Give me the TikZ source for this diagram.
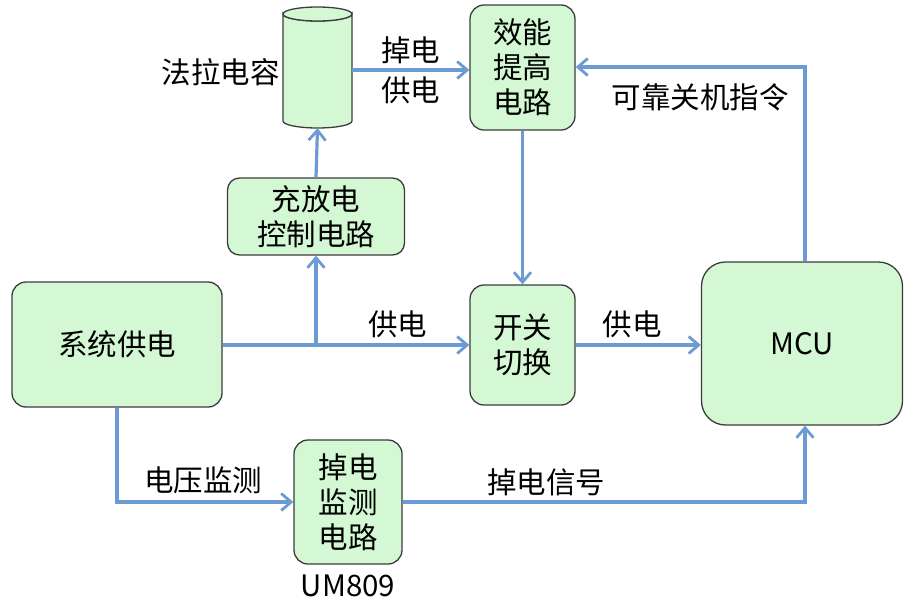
\documentclass[tikz,border=0pt]{standalone}
\usepackage{fontspec}
\setmainfont{Noto Sans CJK SC}
\usetikzlibrary{arrows.meta}
\definecolor{boxfill}{HTML}{D3F8D3}
\definecolor{boxline}{HTML}{3C3C3C}
\definecolor{wire}{HTML}{6B9BD2}
\tikzset{
  blk/.style={draw=boxline, line width=1.3pt, fill=boxfill, rounded corners=14pt, align=center, inner sep=0pt, font=\fontsize{29.5}{35}\selectfont},
  wirestyle/.style={draw=wire, line width=3.2pt, -{Straight Barb[length=10pt,width=17pt,line width=2.8pt]}},
  lbl/.style={font=\fontsize{29.5}{33}\selectfont, align=center, inner sep=0pt}
}
\begin{document}
\begin{tikzpicture}[x=1pt,y=-1pt]
\useasboundingbox (0,0) rectangle (904,603);
% boxes
\node[blk, minimum width=210pt, minimum height=125pt] (sys) at (117,344.5) {系统供电};
\node[blk, minimum width=177pt, minimum height=77pt, rounded corners=12pt] (chg) at (316,216.5) {充放电\\控制电路};
\node[blk, minimum width=105pt, minimum height=125pt] (eff) at (522.5,67.5) {效能\\提高\\电路};
\node[blk, minimum width=105pt, minimum height=120pt] (sw) at (522.5,345) {开关\\切换};
\node[blk, minimum width=201pt, minimum height=163pt, rounded corners=24pt] (mcu) at (802,343.5) {MCU};
\node[blk, minimum width=108pt, minimum height=124pt] (mon) at (348,502) {掉电\\监测\\电路};
% cylinder
\node[minimum width=69pt, minimum height=121pt, inner sep=0pt] (cap) at (317.5,67.5) {};
\draw[draw=boxline, line width=1.3pt, fill=boxfill]
  (283,14) -- (283,121) arc[start angle=180, end angle=0, x radius=34.5, y radius=7] -- (352,14)
  arc[start angle=0, end angle=180, x radius=34.5, y radius=7] -- cycle;
\draw[draw=boxline, line width=1.3pt, fill=boxfill] (317.5,14) ellipse[x radius=34.5, y radius=7];
% labels
\node[lbl, anchor=east] (capl) at (280,72) {法拉电容};
\node[lbl] (um) at (348,586) {UM809};
% connectors
\coordinate (j1) at (316,345);
\draw[wirestyle] (sys.east |- j1) -- (sw.west |- j1) node[lbl, pos=0.71, above=6pt] {供电};
\draw[wirestyle] (j1) -- (chg.south);
\draw[wirestyle] (chg.north) -- (cap.south);
\draw[wirestyle] (cap.east |- 0,70) -- (eff.west |- 0,70) node[lbl, midway, above=5pt] {掉电} node[lbl, midway, below=5pt] {供电};
\draw[wirestyle] (eff.south) -- (sw.north);
\draw[wirestyle] (sw.east) -- (mcu.west |- sw.east) node[lbl, midway, above=6pt, xshift=-6pt] {供电};
\coordinate (c1) at (805,67);
\draw[wirestyle] (mcu.north -| c1) -- (c1) -- (eff.east |- c1);
\node[lbl] (cmd) at (700,97) {可靠关机指令};
\coordinate (c2) at (117,502);
\draw[wirestyle] (sys.south -| c2) -- (c2) -- (mon.west |- c2) node[lbl, midway, above=7pt, xshift=-2pt] {电压监测};
\coordinate (c3) at (805,502);
\draw[wirestyle] (mon.east |- c3) -- (c3) -- (mcu.south -| c3);
\node[lbl] (sig) at (546,482) {掉电信号};
\end{tikzpicture}
\end{document}
